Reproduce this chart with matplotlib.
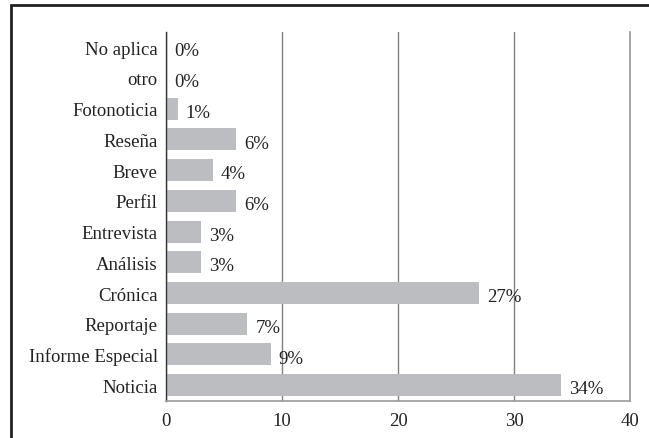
import matplotlib.pyplot as plt
from matplotlib.patches import Rectangle

# data, bottom to top
categories = ['Noticia', 'Informe Especial', 'Reportaje', 'Crónica', 'Análisis',
              'Entrevista', 'Perfil', 'Breve', 'Reseña', 'Fotonoticia', 'otro', 'No aplica']
values = [34, 9, 7, 27, 3, 3, 6, 4, 6, 1, 0, 0]
labels = ['34%', '9%', '7%', '27%', '3%', '3%', '6%', '4%', '6%', '1%', '0%', '0%']
xticks = [0, 10, 20, 30, 40]

plt.rcParams['font.family'] = ['Liberation Serif', 'DejaVu Serif']

fig = plt.figure(figsize=(6.49, 4.39), dpi=100)
ax = fig.add_axes([0.256, 0.084, 0.715, 0.841])

ypos = list(range(len(categories)))
ax.barh(ypos, values, height=0.72, color='#bcbdc0', zorder=2)

for y, v, lab in zip(ypos, values, labels):
    ax.text(v + 0.7, y - 0.12, lab, va='center', ha='left', fontsize=13.5, color='#222222', zorder=3)

ax.set_xlim(0, 40)
ax.set_ylim(-0.52, 11.5)
ax.set_xticks(xticks)
ax.set_yticks(ypos)
ax.set_yticklabels(categories)
ax.tick_params(axis='both', length=0, labelsize=13.5, colors='#222222')
ax.tick_params(axis='x', pad=8)
ax.tick_params(axis='y', pad=6)
ax.xaxis.grid(True, color='#808080', linewidth=1, zorder=1)
ax.axvline(40, color='#999999', linewidth=1.2, clip_on=False, zorder=1)

ax.spines['top'].set_visible(False)
ax.spines['right'].set_visible(False)
ax.spines['left'].set_color('#333333')
ax.spines['bottom'].set_color('#999999')
ax.spines['left'].set_linewidth(1)
ax.spines['bottom'].set_linewidth(1.2)

# outer frame around the chart
fig.patches.append(Rectangle((11 / 649, -0.1), 1.2, 1 - 6 / 439 + 0.1,
                             transform=fig.transFigure, fill=False,
                             edgecolor='#222222', linewidth=2))

fig.savefig('out.png', dpi=100)
